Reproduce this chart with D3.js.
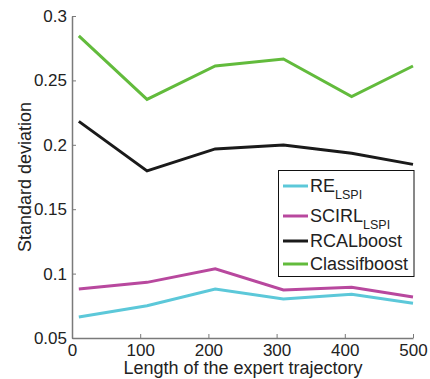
<!DOCTYPE html>
<html>
<head>
<meta charset="utf-8">
<script src="https://cdn.jsdelivr.net/npm/d3@7"></script>
<style>
  html, body { margin: 0; padding: 0; background: #fff; }
  svg { display: block; font-family: "Liberation Sans", Arial, Helvetica, sans-serif; }
</style>
</head>
<body>
<svg id="chart" width="430" height="379"></svg>
<script>
// Trajectory lengths (x) and the standard deviation per method
const lengths = [10, 110, 210, 310, 410, 500];
const reLSPI = [0.0663, 0.0750, 0.0880, 0.0803, 0.0839, 0.0769];
const scirlLSPI = [0.0880, 0.0932, 0.1038, 0.0873, 0.0894, 0.0818];
const rcalBoost = [0.2182, 0.1797, 0.1968, 0.1998, 0.1934, 0.1848];
const classifBoost = [0.2845, 0.2353, 0.2612, 0.2666, 0.2374, 0.2612];

const xTicks = [0, 100, 200, 300, 400, 500];
const yTicks = [0.05, 0.1, 0.15, 0.2, 0.25, 0.3];
const yTickLabels = ["0.05", "0.1", "0.15", "0.2", "0.25", "0.3"];

const series = [
  { name: "RE", sub: "LSPI", values: reLSPI, color: "#5cc8d9" },
  { name: "SCIRL", sub: "LSPI", values: scirlLSPI, color: "#b8489e" },
  { name: "RCALboost", sub: "", values: rcalBoost, color: "#1a1a1a" },
  { name: "Classifboost", sub: "", values: classifBoost, color: "#62bb3c" }
];

const svg = d3.select("#chart");
const plotLeft = 72, plotRight = 413, plotTop = 16, plotBottom = 338;

const x = d3.scaleLinear().domain([0, 500]).range([plotLeft, plotRight]);
const y = d3.scaleLinear().domain([0.05, 0.3]).range([plotBottom, plotTop]);

const axisColor = "#7a7a7a";
const textColor = "#222";

// Lines
const line = d3.line().x((d, i) => x(lengths[i])).y(d => y(d));
svg.append("g").selectAll("path")
  .data(series)
  .join("path")
  .attr("d", d => line(d.values))
  .attr("fill", "none")
  .attr("stroke", d => d.color)
  .attr("stroke-width", 3)
  .attr("stroke-linejoin", "miter");

// Axes (ticks pointing inward)
const xAxis = d3.axisBottom(x).tickValues(xTicks).tickSizeInner(-4).tickSizeOuter(0).tickPadding(8);
const gx = svg.append("g").attr("transform", `translate(0,${plotBottom})`).call(xAxis);
gx.select(".domain").attr("stroke", axisColor).attr("stroke-width", 1.5);
gx.selectAll(".tick line").attr("stroke", axisColor);
gx.selectAll(".tick text").attr("fill", textColor).style("font-size", "17px")
  .attr("dy", "0.75em").attr("y", 5);

const yAxis = d3.axisLeft(y).tickValues(yTicks).tickFormat((d, i) => yTickLabels[i])
  .tickSizeInner(-4).tickSizeOuter(0).tickPadding(5);
const gy = svg.append("g").attr("transform", `translate(${plotLeft},0)`).call(yAxis);
gy.select(".domain").attr("stroke", axisColor).attr("stroke-width", 1.5);
gy.selectAll(".tick line").attr("stroke", axisColor);
gy.selectAll(".tick text").attr("fill", textColor).style("font-size", "17px");

// Axis titles
svg.append("text")
  .attr("x", (plotLeft + plotRight) / 2 + 0.5)
  .attr("y", 374)
  .attr("text-anchor", "middle")
  .attr("fill", textColor)
  .style("font-size", "18px")
  .text("Length of the expert trajectory");

svg.append("text")
  .attr("transform", "translate(31,177) rotate(-90)")
  .attr("text-anchor", "middle")
  .attr("fill", textColor)
  .style("font-size", "18px")
  .text("Standard deviation");

// Legend
const legend = svg.append("g");
legend.append("rect")
  .attr("x", 278.5).attr("y", 170.5)
  .attr("width", 135.5).attr("height", 106)
  .attr("fill", "#fff").attr("stroke", "#111").attr("stroke-width", 1);

const rowY = [186, 216, 241, 264];
const items = legend.selectAll("g.item").data(series).join("g").attr("class", "item")
  .attr("transform", (d, i) => `translate(0,${rowY[i]})`);
items.append("line")
  .attr("x1", 283).attr("x2", 308).attr("y1", 0).attr("y2", 0)
  .attr("stroke", d => d.color).attr("stroke-width", 3);
const label = items.append("text")
  .attr("x", 310).attr("y", 5.5)
  .attr("fill", textColor)
  .style("font-size", "18px");
label.append("tspan").text(d => d.name);
label.filter(d => d.sub).append("tspan")
  .attr("dy", 7).style("font-size", "12.5px")
  .text(d => d.sub);
</script>
</body>
</html>
